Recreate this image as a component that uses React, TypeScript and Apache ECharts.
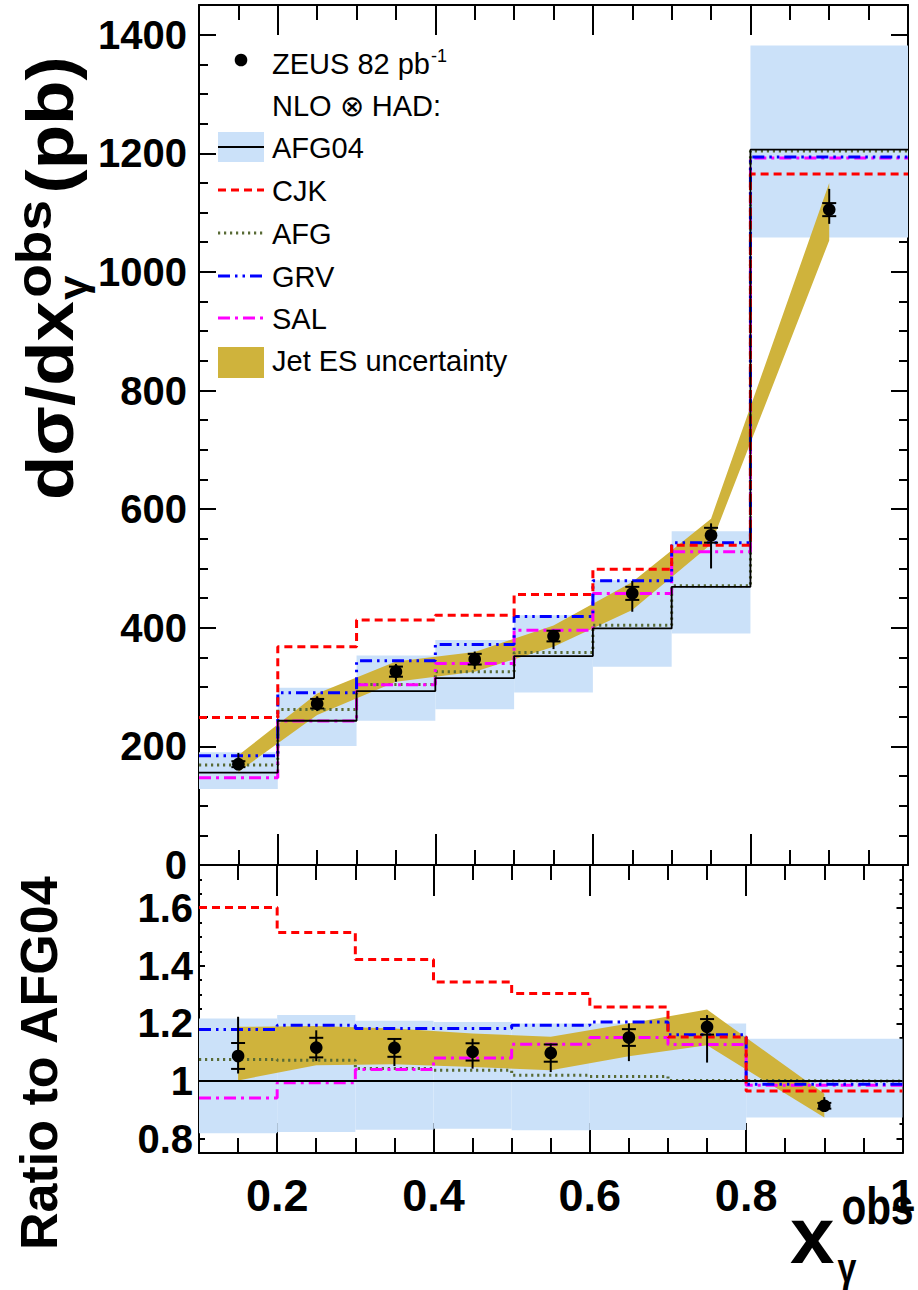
import React, { useEffect, useRef } from "react";
import * as echarts from "echarts";

// ---------------- data ----------------
const binEdges = [0.1, 0.2, 0.3, 0.4, 0.5, 0.6, 0.7, 0.8, 1.0];
const pointX = [0.15, 0.25, 0.35, 0.45, 0.55, 0.65, 0.75, 0.9];

// upper panel: d sigma / d x_gamma^obs (pb)
const zeusXsec = [170, 272, 326, 347, 386, 458, 556, 1105];
const zeusStat = [5, 8, 8.5, 9, 9, 11, 12.5, 11];
const zeusTotUp = [19, 12.5, 13, 13, 10, 21, 20, 35];
const zeusTotDn = [10, 12.5, 17, 17, 22, 31, 56, 24];

const afg04 = [155.6, 243.2, 293.2, 315.1, 352.2, 398.8, 469, 1206];
const afg04Lo = [128, 200.5, 243.2, 262.4, 291, 334.2, 390.4, 1057.8];
const afg04Hi = [190, 298.8, 353.4, 379.2, 421.3, 480.3, 562.8, 1381.9];
const cjk = [248.8, 367.9, 412.9, 421.3, 456.2, 498.8, 539.3, 1165];
const afg = [168.5, 262.3, 304.5, 325.8, 358.4, 404.4, 470.7, 1204];
const grv = [184.2, 290.4, 344.3, 371.9, 419, 479.1, 543.2, 1193.6];
const sal = [147.2, 242.7, 303.9, 339.9, 396, 457.8, 528, 1192];
const jetLo = [157, 253, 309, 326, 368, 430, 541, 1053];
const jetHi = [185, 289, 343, 359, 404, 477, 584, 1150];

// lower panel: ratio to AFG04
const zeusRatio = [1.087, 1.116, 1.115, 1.101, 1.097, 1.151, 1.188, 0.914];
const zeusRatioStat = [0.045, 0.034, 0.031, 0.03, 0.03, 0.029, 0.027, 0.01];
const zeusRatioTotUp = [0.136, 0.06, 0.032, 0.046, 0.033, 0.049, 0.041, 0.03];
const zeusRatioTotDn = [0.061, 0.047, 0.063, 0.058, 0.066, 0.082, 0.124, 0.02];
const ratioAfg04 = [1, 1, 1, 1, 1, 1, 1, 1];
const ratioAfg04Lo = [0.819, 0.823, 0.831, 0.834, 0.829, 0.83, 0.83, 0.873];
const ratioAfg04Hi = [1.217, 1.229, 1.209, 1.205, 1.2, 1.2, 1.2, 1.147];
const ratioCjk = [1.602, 1.516, 1.422, 1.344, 1.304, 1.257, 1.153, 0.965];
const ratioAfg = [1.075, 1.072, 1.043, 1.037, 1.02, 1.016, 1.002, 1.0];
const ratioGrv = [1.179, 1.194, 1.182, 1.182, 1.194, 1.205, 1.161, 0.989];
const ratioSal = [0.941, 0.994, 1.04, 1.08, 1.128, 1.151, 1.127, 0.985];
const ratioJetLo = [1.002, 1.055, 1.058, 1.049, 1.037, 1.086, 1.124, 0.873];
const ratioJetHi = [1.188, 1.191, 1.182, 1.165, 1.154, 1.2, 1.248, 0.956];

// ticks
const xTickLabels = ["0.2", "0.4", "0.6", "0.8", "1"]; // majors, every 0.2
const ratioTickCats = ["0.75", "0.8", "0.85", "0.9", "0.95", "1", "1.05", "1.1", "1.15", "1.2", "1.25", "1.3", "1.35", "1.4", "1.45", "1.5", "1.55", "1.6", "1.65", "1.7", "1.75"];
const ratioTickLabels = ["0.8", "1", "1.2", "1.4", "1.6"];

// ---------------- styles ----------------
const FONT = '"Liberation Sans", Arial, Helvetica, sans-serif';
const BAND = "#cbe1f9";
const GOLD = "#cfb33c";
const OLIVE = "#586a35";
const STY = {
  afg04: { color: "#000000", width: 1.8, type: "solid" as any },
  cjk: { color: "#ff0000", width: 3, type: [8, 5] as any },
  afg: { color: OLIVE, width: 3, type: [2.2, 3.8] as any },
  grv: { color: "#0000ff", width: 3, type: [12, 5, 2.5, 5, 2.5, 5] as any },
  sal: { color: "#ff00ff", width: 3, type: [12, 5, 3, 5] as any },
};

function measure(text: string, font: string): number {
  const c = document.createElement("canvas").getContext("2d")!;
  c.font = font;
  return c.measureText(text).width;
}

function stepData(vals: number[]) {
  const d = vals.map((v, i) => [binEdges[i], v]);
  d.push([binEdges[vals.length], vals[vals.length - 1]]);
  return d;
}

const frameLine = { show: true, onZero: false, lineStyle: { color: "#000", width: 2 } };
const hiddenLine = { show: false, onZero: false };
const tickStyle = { color: "#000", width: 2 };

function xMinorAxis(grid: number, position: string, len: number) {
  return {
    type: "value", gridIndex: grid, position, min: 0.1, max: 1.0, interval: 0.05,
    axisLine: frameLine,
    axisTick: { show: true, inside: true, length: len, lineStyle: tickStyle },
    axisLabel: { show: false }, splitLine: { show: false },
  };
}
// Major ticks: an inverted helper axis measuring the distance from x = 1,
// so its ticks (counted from its min, at the right edge) fall on 1, 0.8, ..., 0.2.
function xMajorAxis(grid: number, position: string, len: number, withLabels: boolean) {
  return {
    type: "value", gridIndex: grid, position, inverse: true, min: 0, max: 0.9, interval: 0.2,
    axisLine: hiddenLine,
    axisTick: { show: true, inside: true, length: len, lineStyle: tickStyle },
    axisLabel: withLabels
      ? {
          show: true, showMaxLabel: false, showMinLabel: true,
          formatter: (u: number) => {
            const k = Math.round(u / 0.2);
            return Math.abs(u - k * 0.2) < 1e-6 ? xTickLabels[xTickLabels.length - 1 - k] ?? "" : "";
          },
          color: "#000", fontSize: 45, fontWeight: "bold", fontFamily: FONT, margin: 20,
        }
      : { show: false },
    splitLine: { show: false },
  };
}

function bandSeries(name: string, xi: number, yi: number, lo: number[], hi: number[]) {
  return {
    type: "custom", name, xAxisIndex: xi, yAxisIndex: yi, z: 1, silent: true,
    data: lo.map((l, i) => [binEdges[i], binEdges[i + 1], l, hi[i]]),
    renderItem: (_p: any, api: any) => {
      const a = api.coord([api.value(0), api.value(3)]);
      const b = api.coord([api.value(1), api.value(2)]);
      return { type: "rect", shape: { x: a[0], y: a[1], width: b[0] - a[0], height: b[1] - a[1] }, style: { fill: BAND } };
    },
  };
}

function jetSeries(xi: number, yi: number, lo: number[], hi: number[]) {
  return {
    type: "custom", name: "Jet ES uncertainty", xAxisIndex: xi, yAxisIndex: yi, z: 2, silent: true,
    data: pointX.map((x, i) => [x, lo[i], hi[i]]),
    renderItem: (p: any, api: any) => {
      if (p.dataIndex !== 0) return null;
      const pts: number[][] = [];
      for (let i = 0; i < pointX.length; i++) pts.push(api.coord([pointX[i], hi[i]]));
      for (let i = pointX.length - 1; i >= 0; i--) pts.push(api.coord([pointX[i], lo[i]]));
      return { type: "polygon", shape: { points: pts }, style: { fill: GOLD } };
    },
  };
}

function lineSeries(name: string, xi: number, yi: number, vals: number[], st: any, z = 3) {
  return {
    type: "line", name, xAxisIndex: xi, yAxisIndex: yi, step: "end", symbol: "none", showSymbol: false,
    silent: true, z, data: stepData(vals),
    lineStyle: { color: st.color, width: st.width, type: st.type, cap: "butt" },
  };
}

function pointSeries(xi: number, yi: number, vals: number[], stat: number[], up: number[], dn: number[]) {
  return {
    type: "custom", name: "ZEUS 82 pb-1", xAxisIndex: xi, yAxisIndex: yi, z: 6, silent: true,
    data: vals.map((v, i) => [pointX[i], v, stat[i], up[i], dn[i]]),
    renderItem: (_p: any, api: any) => {
      const x = api.value(0), y = api.value(1), s = api.value(2), u = api.value(3), d = api.value(4);
      const c = api.coord([x, y]);
      const t = api.coord([x, y + u]);
      const b = api.coord([x, y - d]);
      const su = api.coord([x, y + s]);
      const sd = api.coord([x, y - s]);
      const ls = { stroke: "#000", lineWidth: 2 };
      return {
        type: "group",
        children: [
          { type: "line", shape: { x1: c[0], y1: t[1], x2: c[0], y2: b[1] }, style: ls },
          { type: "line", shape: { x1: c[0] - 7, y1: su[1], x2: c[0] + 7, y2: su[1] }, style: ls },
          { type: "line", shape: { x1: c[0] - 7, y1: sd[1], x2: c[0] + 7, y2: sd[1] }, style: ls },
          { type: "circle", shape: { cx: c[0], cy: c[1], r: 6.3 }, style: { fill: "#000" } },
        ],
      };
    },
  };
}

function txt(x: number, baseline: number, text: string, size: number, bold = false, extra: any = {}) {
  return {
    type: "text", x, y: baseline - 0.3465 * size, silent: true, ...extra,
    style: { text, fontSize: size, fontFamily: FONT, fontWeight: bold ? "bold" : "normal", fill: "#000", align: "left", verticalAlign: "middle", textAlign: "left", textVerticalAlign: "middle" },
  };
}

function buildOption() {
  // legend
  const LX1 = 218, LX2 = 264, TX = 272;
  const rows = [64, 106, 148, 191, 234, 277, 319, 361];
  const lb = (i: number) => rows[i] + 10.5; // baseline from centre
  const legend: any[] = [
    { type: "circle", shape: { cx: 241, cy: 60, r: 6.3 }, style: { fill: "#000" } },
    txt(TX, lb(0), "ZEUS 82 pb", 29),
    txt(TX + measure("ZEUS 82 pb", `29px ${FONT}`) + 1, lb(0) - 12, "-1", 18),
    txt(TX, lb(1), "NLO \u2297 HAD:", 29),
    { type: "rect", shape: { x: LX1, y: 132, width: LX2 - LX1, height: 30 }, style: { fill: BAND } },
    { type: "line", shape: { x1: LX1, y1: 147, x2: LX2, y2: 147 }, style: { stroke: "#000", lineWidth: 1.8 } },
    txt(TX, lb(2), "AFG04", 29),
    { type: "line", shape: { x1: LX1, y1: 190, x2: LX2, y2: 190 }, style: { stroke: STY.cjk.color, lineWidth: 3, lineDash: STY.cjk.type } },
    txt(TX, lb(3), "CJK", 29),
    { type: "line", shape: { x1: LX1, y1: 233, x2: LX2, y2: 233 }, style: { stroke: OLIVE, lineWidth: 3, lineDash: STY.afg.type } },
    txt(TX, lb(4), "AFG", 29),
    { type: "line", shape: { x1: LX1, y1: 276, x2: LX2, y2: 276 }, style: { stroke: STY.grv.color, lineWidth: 3, lineDash: STY.grv.type } },
    txt(TX, lb(5), "GRV", 29),
    { type: "line", shape: { x1: LX1, y1: 318, x2: LX2, y2: 318 }, style: { stroke: STY.sal.color, lineWidth: 3, lineDash: STY.sal.type } },
    txt(TX, lb(6), "SAL", 29),
    { type: "rect", shape: { x: LX1, y: 347, width: LX2 - LX1, height: 31 }, style: { fill: GOLD } },
    txt(TX, lb(7), "Jet ES uncertainty", 29),
  ];

  // y title (rotated)
  const F1 = 66, F2 = 50, F3 = 40;
  const w1 = measure("d\u03c3/dx", `bold ${F1}px ${FONT}`);
  const wObs = measure("obs", `bold ${F2}px ${FONT}`);
  const yTitle = {
    type: "group", x: 73, y: 500, rotation: Math.PI / 2, scaleX: 1.1, silent: true,
    children: [
      txt(0, 0, "d\u03c3/dx", F1, true),
      txt(w1 + 3, -22, "obs", F2, true),
      txt(w1 + 1, 14, "\u03b3", F3, true),
      txt(w1 + 3 + wObs + 6, 0, "(pb)", F1, true),
    ],
  };
  const rTitle = {
    type: "group", x: 57, y: 1250, rotation: Math.PI / 2, silent: true,
    children: [txt(0, 0, "Ratio to AFG04", 52, true)],
  };
  const wx = measure("x", `bold 80px ${FONT}`);
  const xTitle: any[] = [
    txt(790, 1263, "x", 80, true),
    txt(790 + wx + 7, 1224, "obs", 52, true, { scaleX: 0.78 }),
    txt(790 + wx + 3, 1282, "\u03b3", 40, true, { scaleX: 0.85 }),
  ];

  return {
    animation: false,
    backgroundColor: "#ffffff",
    grid: [
      { left: 199, top: 5, width: 709, height: 860 },
      { left: 199, top: 865, width: 709, height: 288 },
    ],
    xAxis: [
      { type: "value", gridIndex: 0, min: 0.1, max: 1.0, show: false },
      xMinorAxis(0, "bottom", 15),
      xMajorAxis(0, "bottom", 31, false),
      xMinorAxis(0, "top", 15),
      xMajorAxis(0, "top", 30, false),
      { type: "value", gridIndex: 1, min: 0.1, max: 1.0, show: false },
      xMinorAxis(1, "bottom", 15),
      xMajorAxis(1, "bottom", 30, true),
      xMinorAxis(1, "top", 15),
      xMajorAxis(1, "top", 31, false),
    ],
    yAxis: [
      {
        type: "value", gridIndex: 0, position: "left", min: 0, max: 1450, interval: 200,
        axisLine: frameLine, axisTick: { show: true, inside: true, length: 17, lineStyle: tickStyle },
        axisLabel: { show: true, showMaxLabel: false, formatter: (v: number) => (v % 200 === 0 ? String(v) : ""), color: "#000", fontSize: 40, fontWeight: "bold", fontFamily: FONT, margin: 12 },
        splitLine: { show: false },
      },
      { type: "value", gridIndex: 0, position: "left", min: 0, max: 1450, interval: 50, axisLine: hiddenLine, axisTick: { show: true, inside: true, length: 9, lineStyle: tickStyle }, axisLabel: { show: false }, splitLine: { show: false } },
      { type: "value", gridIndex: 0, position: "right", min: 0, max: 1450, interval: 200, axisLine: frameLine, axisTick: { show: true, inside: true, length: 17, lineStyle: tickStyle }, axisLabel: { show: false }, splitLine: { show: false } },
      { type: "value", gridIndex: 0, position: "right", min: 0, max: 1450, interval: 50, axisLine: hiddenLine, axisTick: { show: true, inside: true, length: 9, lineStyle: tickStyle }, axisLabel: { show: false }, splitLine: { show: false } },
      { type: "value", gridIndex: 1, position: "left", min: 0.75, max: 1.75, interval: 0.05, axisLine: frameLine, axisTick: { show: true, inside: true, length: 3, lineStyle: tickStyle }, axisLabel: { show: false }, splitLine: { show: false } },
      {
        type: "category", gridIndex: 1, position: "left", data: ratioTickCats, boundaryGap: false, axisLine: hiddenLine,
        axisTick: { show: true, inside: true, length: 6, lineStyle: tickStyle, interval: (_i: number, v: string) => ratioTickLabels.includes(v) },
        axisLabel: { show: true, interval: (_i: number, v: string) => ratioTickLabels.includes(v), color: "#000", fontSize: 40, fontWeight: "bold", fontFamily: FONT, margin: 6 },
        splitLine: { show: false },
      },
      { type: "value", gridIndex: 1, position: "right", min: 0.75, max: 1.75, interval: 0.05, axisLine: frameLine, axisTick: { show: true, inside: true, length: 3, lineStyle: tickStyle }, axisLabel: { show: false }, splitLine: { show: false } },
      {
        type: "category", gridIndex: 1, position: "right", data: ratioTickCats, boundaryGap: false, axisLine: hiddenLine,
        axisTick: { show: true, inside: true, length: 6, lineStyle: tickStyle, interval: (_i: number, v: string) => ratioTickLabels.includes(v) },
        axisLabel: { show: false }, splitLine: { show: false },
      },
    ],
    series: [
      bandSeries("AFG04 band", 0, 0, afg04Lo, afg04Hi),
      jetSeries(0, 0, jetLo, jetHi),
      lineSeries("AFG04", 0, 0, afg04, STY.afg04, 4),
      lineSeries("AFG", 0, 0, afg, STY.afg),
      lineSeries("SAL", 0, 0, sal, STY.sal),
      lineSeries("GRV", 0, 0, grv, STY.grv),
      lineSeries("CJK", 0, 0, cjk, STY.cjk),
      pointSeries(0, 0, zeusXsec, zeusStat, zeusTotUp, zeusTotDn),

      bandSeries("AFG04 band ratio", 5, 4, ratioAfg04Lo, ratioAfg04Hi),
      jetSeries(5, 4, ratioJetLo, ratioJetHi),
      lineSeries("AFG04 ratio", 5, 4, ratioAfg04, STY.afg04, 4),
      lineSeries("AFG ratio", 5, 4, ratioAfg, STY.afg),
      lineSeries("SAL ratio", 5, 4, ratioSal, STY.sal),
      lineSeries("GRV ratio", 5, 4, ratioGrv, STY.grv),
      lineSeries("CJK ratio", 5, 4, ratioCjk, STY.cjk),
      pointSeries(5, 4, zeusRatio, zeusRatioStat, zeusRatioTotUp, zeusRatioTotDn),
    ],
    graphic: [...legend, yTitle, rTitle, ...xTitle],
  };
}

export default function App() {
  const ref = useRef<HTMLDivElement>(null);
  useEffect(() => {
    document.body.style.margin = "0";
    const chart = echarts.init(ref.current!, undefined, { renderer: "svg" });
    chart.setOption(buildOption() as any);
    return () => chart.dispose();
  }, []);
  return <div ref={ref} style={{ width: 918, height: 1290, background: "#fff" }} />;
}
